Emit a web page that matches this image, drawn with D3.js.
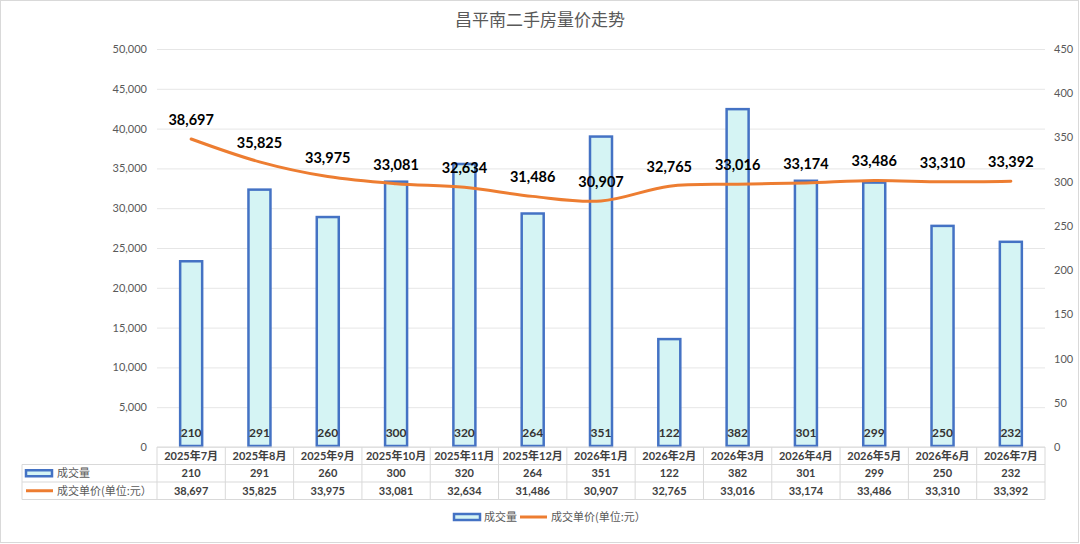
<!DOCTYPE html>
<meta charset="utf-8">
<title>昌平南二手房量价走势</title>
<style>
body { margin: 0; background: #fff; }
text { font-family: Lato, "Noto Sans CJK SC", sans-serif; }
</style>
<body></body>
<script src="https://cdn.jsdelivr.net/npm/d3@7/dist/d3.min.js"></script>
<script>

var months = ["2025年7月", "2025年8月", "2025年9月", "2025年10月", "2025年11月", "2025年12月",
              "2026年1月", "2026年2月", "2026年3月", "2026年4月", "2026年5月", "2026年6月", "2026年7月"];
var volume = [210, 291, 260, 300, 320, 264, 351, 122, 382, 301, 299, 250, 232];
var price = [38697, 35825, 33975, 33081, 32634, 31486, 30907, 32765, 33016, 33174, 33486, 33310, 33392];
var priceTicks = d3.range(0, 50001, 5000);
var volumeTicks = d3.range(0, 451, 50);
var volumeName = "成交量";
var priceName = "成交单价(单位:元）";

// window.top is read-only, so plot edges get their own names
var width = 1080,
    height = 544,
    plotLeft = 157, plotRight = 1045,
    plotTop = 49, plotBottom = 447;

var svg = d3.select("body").append("svg")
    .attr("width", width)
    .attr("height", height);

svg.append("rect")
    .attr("x", 0.5).attr("y", 0.5)
    .attr("width", width - 2).attr("height", height - 2)
    .attr("fill", "#fff")
    .attr("stroke", "#d9d9d9");

svg.append("text")
    .attr("x", 540).attr("y", 26)
    .attr("text-anchor", "middle")
    .attr("font-size", 17)
    .attr("fill", "#595959")
    .style("font-family", "'Noto Sans CJK SC', sans-serif")
    .text("昌平南二手房量价走势");

var x = d3.scaleBand().domain(months).range([plotLeft, plotRight]).padding(0);
var yL = d3.scaleLinear().domain([0, 50000]).range([plotBottom, plotTop]);
var yR = d3.scaleLinear().domain([0, 450]).range([plotBottom, plotTop]);
var cx = function(d) { return x(d) + x.bandwidth() / 2; };
var barW = 22;

// gridlines
svg.append("g")
    .attr("transform", "translate(" + plotLeft + ",0)")
    .call(d3.axisLeft(yL).tickValues(priceTicks).tickSize(-(plotRight - plotLeft)).tickFormat(""))
    .call(function(g) { g.select(".domain").remove(); })
    .selectAll("line").attr("stroke", "#e6e6e6");

// left axis
svg.append("g")
    .attr("transform", "translate(" + (plotLeft - 7) + ",0)")
    .call(d3.axisLeft(yL).tickValues(priceTicks).tickSize(0).tickFormat(d3.format(",")))
    .call(function(g) { g.select(".domain").remove(); })
    .selectAll("text")
    .attr("fill", "#595959").attr("font-size", 11);

// right axis
svg.append("g")
    .attr("transform", "translate(" + (plotRight + 6) + ",0)")
    .call(d3.axisRight(yR).tickValues(volumeTicks).tickSize(0))
    .call(function(g) { g.select(".domain").remove(); })
    .selectAll("text")
    .attr("fill", "#595959").attr("font-size", 11);

// bars
svg.append("g").selectAll("rect")
    .data(volume)
  .enter().append("rect")
    .attr("x", function(d, i) { return cx(months[i]) - barW / 2; })
    .attr("y", function(d) { return yR(d); })
    .attr("width", barW)
    .attr("height", function(d) { return plotBottom - yR(d) - 1; })
    .attr("fill", "#d5f4f4")
    .attr("stroke", "#4472c4")
    .attr("stroke-width", 2.5);

svg.append("g").selectAll("text")
    .data(volume)
  .enter().append("text")
    .attr("x", function(d, i) { return cx(months[i]); })
    .attr("y", plotBottom - 10)
    .attr("text-anchor", "middle")
    .attr("font-size", 12)
    .attr("font-weight", "bold")
    .attr("fill", "#333")
    .text(function(d) { return d; });

// price line
var line = d3.line()
    .x(function(d, i) { return cx(months[i]); })
    .y(function(d) { return yL(d); })
    .curve(d3.curveCardinal);

svg.append("path")
    .datum(price)
    .attr("d", line)
    .attr("fill", "none")
    .attr("stroke", "#ed7d31")
    .attr("stroke-width", 3)
    .attr("stroke-linecap", "round");

svg.append("g").selectAll("text")
    .data(price)
  .enter().append("text")
    .attr("x", function(d, i) { return cx(months[i]); })
    .attr("y", function(d) { return yL(d) - 14; })
    .attr("text-anchor", "middle")
    .attr("font-size", 14.5)
    .attr("font-weight", "bold")
    .attr("fill", "#000")
    .text(function(d) { return d3.format(",")(d); });

// data table
var rowY = [447, 464.5, 482, 499.5],
    tableLeft = 22,
    border = "#d9d9d9";

var table = svg.append("g").attr("fill", "none").attr("stroke", border).attr("stroke-width", 1);
table.append("line").attr("x1", plotLeft).attr("x2", plotRight).attr("y1", rowY[0]).attr("y2", rowY[0]);
[1, 2, 3].forEach(function(r) {
  table.append("line").attr("x1", tableLeft).attr("x2", plotRight).attr("y1", rowY[r]).attr("y2", rowY[r]);
});
table.append("line").attr("x1", tableLeft).attr("x2", tableLeft).attr("y1", rowY[1]).attr("y2", rowY[3]);
months.forEach(function(m) {
  table.append("line").attr("x1", x(m)).attr("x2", x(m)).attr("y1", rowY[0]).attr("y2", rowY[3]);
});
table.append("line").attr("x1", plotRight).attr("x2", plotRight).attr("y1", rowY[0]).attr("y2", rowY[3]);

function cellRow(values, r, fmt) {
  svg.append("g").selectAll("text")
      .data(values)
    .enter().append("text")
      .attr("x", function(d, i) { return cx(months[i]); })
      .attr("y", (rowY[r] + rowY[r + 1]) / 2 + 4)
      .attr("text-anchor", "middle")
      .attr("font-size", 11)
      .attr("font-weight", "bold")
      .attr("fill", "#404040")
      .text(fmt);
}
cellRow(months, 0, function(d) { return d; });
cellRow(volume, 1, function(d) { return d; });
cellRow(price, 2, function(d) { return d3.format(",")(d); });

// legend keys inside table
function barKey(g, kx, ky) {
  g.append("rect")
      .attr("x", kx).attr("y", ky - 3)
      .attr("width", 26).attr("height", 6)
      .attr("fill", "#d5f4f4")
      .attr("stroke", "#4472c4")
      .attr("stroke-width", 2.5);
}
function lineKey(g, kx, ky) {
  g.append("line")
      .attr("x1", kx).attr("x2", kx + 27)
      .attr("y1", ky).attr("y2", ky)
      .attr("stroke", "#ed7d31")
      .attr("stroke-width", 3);
}
function keyText(g, tx, ty, label) {
  g.append("text")
      .attr("x", tx).attr("y", ty + 4)
      .attr("font-size", 11)
      .attr("fill", "#595959")
      .style("font-family", "'Noto Sans CJK SC', sans-serif")
      .text(label);
}

var tk = svg.append("g");
barKey(tk, 26, (rowY[1] + rowY[2]) / 2);
keyText(tk, 57, (rowY[1] + rowY[2]) / 2, volumeName);
lineKey(tk, 26, (rowY[2] + rowY[3]) / 2);
keyText(tk, 57, (rowY[2] + rowY[3]) / 2, priceName);

// bottom legend
var lg = svg.append("g");
barKey(lg, 454, 517);
keyText(lg, 484, 517, volumeName);
lineKey(lg, 520, 517);
keyText(lg, 551, 517, priceName);

</script>
